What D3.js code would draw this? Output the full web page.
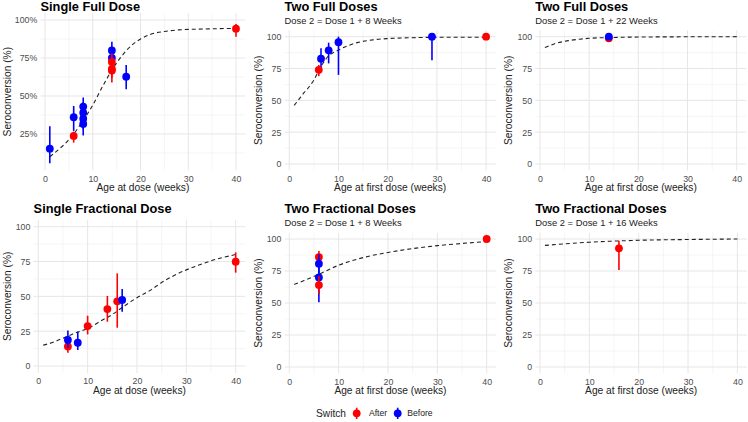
<!DOCTYPE html>
<html><head><meta charset="utf-8">
<script src="https://cdn.jsdelivr.net/npm/d3@7"></script>
<style>body{margin:0;background:#fff}svg{display:block}text{font-family:"Liberation Sans",Arial,sans-serif}</style>
</head><body><svg id="c" width="748" height="422"></svg>
<script>
// ---------- data ----------
const panelTitles = ["Single Full Dose","Two Full Doses","Two Full Doses","Single Fractional Dose","Two Fractional Doses","Two Fractional Doses"];
const panelSubtitles = [null,"Dose 2 = Dose 1 + 8 Weeks","Dose 2 = Dose 1 + 22 Weeks",null,"Dose 2 = Dose 1 + 8 Weeks","Dose 2 = Dose 1 + 16 Weeks"];
const xAxisTitles = ["Age at dose (weeks)","Age at first dose (weeks)","Age at first dose (weeks)","Age at dose (weeks)","Age at first dose (weeks)","Age at first dose (weeks)"];
const yAxisTitle = "Seroconversion (%)";
const xTicks = [0,10,20,30,40];
const xMinor = [5,15,25,35];
const yTicks = [0,25,50,75,100];
const yMinor = [12.5,37.5,62.5,87.5];
const switchLevels = ["After","Before"];
const legendTitle = "Switch";

// points: [age (weeks), seroconversion (%), lower, upper, switch]
const singleFullPoints = [
  [1,15.3,5.7,30,"Before"],
  [6,36,27,43.4,"Before"],
  [6,23.7,19.3,26.5,"After"],
  [8,43,36,49,"Before"],[8,39,32,46,"Before"],[8,35,28,42,"Before"],[8,31.6,24,39,"Before"],
  [14,80,75,85.7,"Before"],[14,75,68,80,"Before"],
  [14,72.4,66,78,"After"],[14,67.8,62,73,"After"],[14,66.7,58.8,72,"After"],
  [17,62.7,54.4,70.4,"Before"],
  [40,94.3,89,97.4,"After"]
];
const twoFull8Points = [
  [6.45,82.7,74,91,"Before"],
  [8,89.3,79,95.3,"Before"],
  [10,95.6,70,100,"Before"],
  [29,100,81.5,100,"Before"],
  [6,74,69,77.8,"After"],
  [40,100,100,100,"After"]
];
const twoFull22Points = [
  [14,98.7,97,99.5,"After"],
  [14,100,99.5,100,"Before"]
];
const singleFracPoints = [
  [6,14.1,9.6,16.7,"After"],
  [6,18.7,13,25.5,"Before"],
  [8,16.7,11.5,24.6,"Before"],
  [10,28.7,22.7,36.1,"After"],
  [14,40.9,31.8,50.3,"After"],
  [16,46.4,27.5,66.5,"After"],
  [17,47.4,39,55.3,"Before"],
  [40,74.9,67,81.6,"After"]
];
const twoFrac8Points = [
  [6,85.9,78,90.6,"After"],
  [6,80.7,70,88,"Before"],
  [6,70,50.5,81,"Before"],
  [6,64,57,71,"After"],
  [40,100,100,100,"After"]
];
const twoFrac16Points = [
  [16,92.7,75.8,98.7,"After"]
];

// fitted curves: [age, seroconversion (%)]
const singleFullCurve = [[1,10],[2,12.5],[4,18],[6,25],[8,34],[10,44],[12,56],[14,67],[16,76],[18,83],[20,87.5],[22,90.5],[25,92.5],[28,93.5],[32,94],[36,94.3],[40,94.5]];
const twoFull8Curve = [[1,46],[2,51],[3,56],[4,60.5],[5,66],[6,73.5],[7,80],[8,85],[9,87.5],[10,89.5],[12,93],[14,95.5],[17,97.5],[20,98.5],[25,99.2],[30,99.5],[40,99.6]];
const twoFull22Curve = [[1,91.5],[2,93],[3,94.5],[4,95.5],[6,97],[8,98],[10,98.7],[14,99.3],[20,99.7],[30,99.9],[40,100]];
const singleFracCurve = [[1,15],[3,17],[5,20],[7,23],[10,27],[13,33],[15,37],[17,42],[20,49],[23,55],[25,60],[27,64],[30,69],[33,73],[35,75.5],[37,77.5],[40,80]];
const twoFrac8Curve = [[1,64.5],[3,67.5],[6,72.5],[10,79.5],[15,85.5],[20,89.5],[25,92.5],[30,94.8],[35,96.5],[40,98]];
const twoFrac16Curve = [[1,95],[5,96.2],[10,97.5],[16,98.5],[20,99],[30,99.6],[40,100]];

const panelPoints = [singleFullPoints,twoFull8Points,twoFull22Points,singleFracPoints,twoFrac8Points,twoFrac16Points];
const panelCurves = [singleFullCurve,twoFull8Curve,twoFull22Curve,singleFracCurve,twoFrac8Curve,twoFrac16Curve];

// ---------- layout ----------
const layout = [
  {x0:40.5, x1:245.3, yTop:12.9, yBot:170.4, yDom:[1,104.7], pct:true, titleY:10.8, subY:null, yTitleX:7},
  {x0:284.6,x1:495.7, yTop:30.3, yBot:170.4, yDom:[-5,105], pct:false, titleY:10.6, subY:23.7, yTitleX:258.5},
  {x0:535.3,x1:746.3, yTop:30.3, yBot:170.4, yDom:[-5,105], pct:false, titleY:10.6, subY:23.7, yTitleX:508.5},
  {x0:33.6, x1:245.3, yTop:219.7,yBot:373,   yDom:[-5,105], pct:false, titleY:212.7,subY:null, yTitleX:7.5},
  {x0:284.6,x1:496.3, yTop:232.6,yBot:373.4, yDom:[-5,105], pct:false, titleY:212.7,subY:225.7, yTitleX:258.5},
  {x0:535.3,x1:747,   yTop:232.6,yBot:373.4, yDom:[-5,105], pct:false, titleY:212.7,subY:225.7, yTitleX:508.5}
];
const color = d3.scaleOrdinal().domain(switchLevels).range(["#ff0000","#0000ff"]);

const svg = d3.select("#c");
svg.append("rect").attr("width",748).attr("height",422).attr("fill","#fff");

layout.forEach((L,i)=>{
  const x = d3.scaleLinear().domain([-0.95,41.95]).range([L.x0,L.x1]);
  const y = d3.scaleLinear().domain(L.yDom).range([L.yBot,L.yTop]);
  const g = svg.append("g");
  const yT = yTicks.filter(v=>v>=L.yDom[0]&&v<=L.yDom[1]);
  const yM = yMinor.filter(v=>v>=L.yDom[0]&&v<=L.yDom[1]);
  // grid
  g.selectAll(".mx").data(xMinor).join("line").attr("x1",d=>x(d)).attr("x2",d=>x(d)).attr("y1",L.yTop).attr("y2",L.yBot).attr("stroke","#f2f2f2").attr("stroke-width",0.8);
  g.selectAll(".my").data(yM).join("line").attr("y1",d=>y(d)).attr("y2",d=>y(d)).attr("x1",L.x0).attr("x2",L.x1).attr("stroke","#f2f2f2").attr("stroke-width",0.8);
  g.selectAll(".gx").data(xTicks).join("line").attr("x1",d=>x(d)).attr("x2",d=>x(d)).attr("y1",L.yTop).attr("y2",L.yBot).attr("stroke","#e6e6e6").attr("stroke-width",1);
  g.selectAll(".gy").data(yT).join("line").attr("y1",d=>y(d)).attr("y2",d=>y(d)).attr("x1",L.x0).attr("x2",L.x1).attr("stroke","#e6e6e6").attr("stroke-width",1);
  // axes labels via d3 axes
  const ax = d3.axisBottom(x).tickValues(xTicks).tickSize(0).tickPadding(5);
  const axg = g.append("g").attr("transform",`translate(0,${L.yBot})`).call(ax);
  axg.select(".domain").remove();
  axg.selectAll("text").attr("font-size","8.8px").attr("fill","#4d4d4d").attr("font-family","Liberation Sans, Arial, sans-serif");
  const ay = d3.axisLeft(y).tickValues(yT).tickSize(0).tickPadding(3.2).tickFormat(d=>L.pct? d+"%" : d);
  const ayg = g.append("g").attr("transform",`translate(${L.x0},0)`).call(ay);
  ayg.select(".domain").remove();
  ayg.selectAll("text").attr("font-size","8.8px").attr("fill","#4d4d4d").attr("font-family","Liberation Sans, Arial, sans-serif");
  // axis titles
  g.append("text").attr("x",(L.x0+L.x1)/2).attr("y",L.yBot+21).attr("text-anchor","middle").attr("font-size","10.2px").attr("fill","#222").text(xAxisTitles[i]);
  g.append("text").attr("transform",`translate(${L.yTitleX+3.6},${(L.yTop+L.yBot)/2}) rotate(-90)`).attr("text-anchor","middle").attr("font-size","10.2px").attr("fill","#222").text(yAxisTitle);
  // titles
  g.append("text").attr("x",L.x0).attr("y",L.titleY).attr("font-size","12.8px").attr("font-weight","bold").attr("fill","#000").text(panelTitles[i]);
  if(panelSubtitles[i]) g.append("text").attr("x",L.x0).attr("y",L.subY).attr("font-size","9.4px").attr("fill","#222").text(panelSubtitles[i]);
  // curve
  const line = d3.line().x(d=>x(d[0])).y(d=>y(d[1])).curve(d3.curveMonotoneX);
  g.append("path").datum(panelCurves[i]).attr("d",line).attr("fill","none").attr("stroke","#222").attr("stroke-width",1.1).attr("stroke-dasharray","4,3");
  // point ranges
  panelPoints[i].forEach(p=>{
    g.append("line").attr("x1",x(p[0])).attr("x2",x(p[0])).attr("y1",y(p[2])).attr("y2",y(p[3])).attr("stroke",color(p[4])).attr("stroke-width",1.6);
    g.append("circle").attr("cx",x(p[0])).attr("cy",y(p[1])).attr("r",3.9).attr("fill",color(p[4]));
  });
});

// legend
const lg = svg.append("g");
lg.append("text").attr("x",316).attr("y",416.8).attr("font-size","10.2px").attr("fill","#222").text(legendTitle);
const keyX = [356.7,397.7];
const labX = [369,407.3];
switchLevels.forEach((s,k)=>{
  lg.append("line").attr("x1",keyX[k]).attr("x2",keyX[k]).attr("y1",407.7).attr("y2",419).attr("stroke",color(s)).attr("stroke-width",1.6);
  lg.append("circle").attr("cx",keyX[k]).attr("cy",413.3).attr("r",3.9).attr("fill",color(s));
  lg.append("text").attr("x",labX[k]).attr("y",416.4).attr("font-size","8.6px").attr("fill","#222").text(s);
});
</script></body></html>
